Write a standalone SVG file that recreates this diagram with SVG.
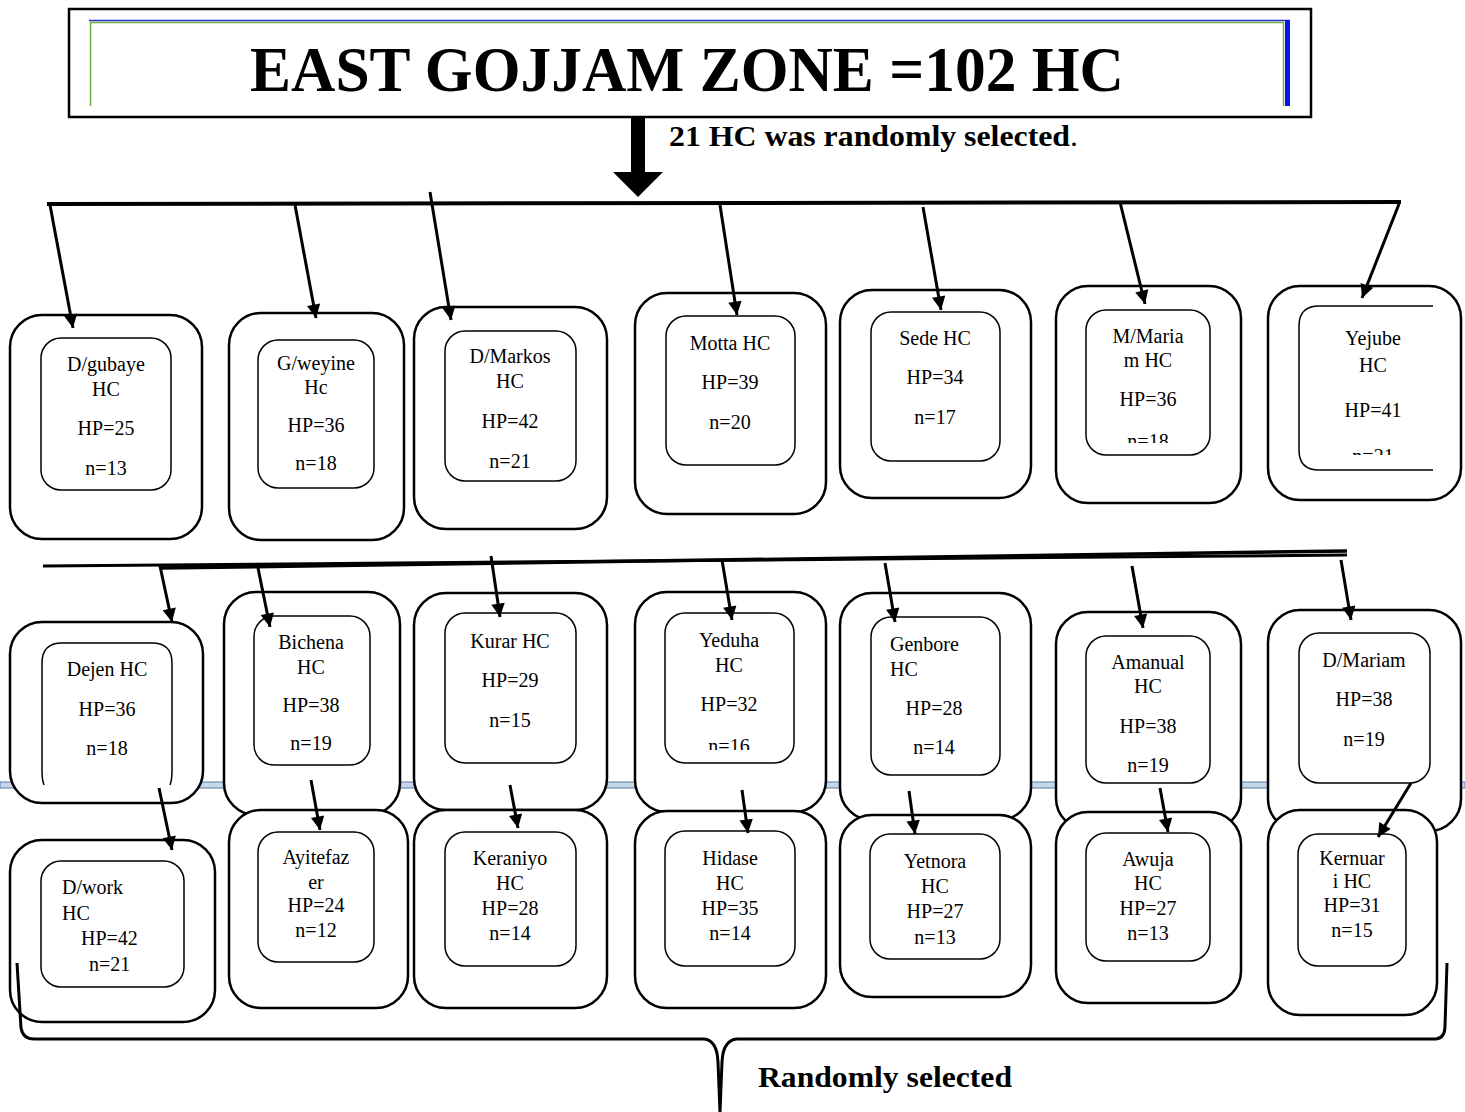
<svg xmlns="http://www.w3.org/2000/svg" width="1465" height="1112" viewBox="0 0 1465 1112">
<style>
.o{fill:#fff;stroke:#000;stroke-width:2.5}
.i{fill:#fff;stroke:#000;stroke-width:1.5}
.io{fill:none;stroke:#000;stroke-width:1.5}
.t{font-family:"Liberation Serif","Times New Roman",serif;font-size:20px;fill:#000;text-anchor:middle}
.tl{font-family:"Liberation Serif","Times New Roman",serif;font-size:20px;fill:#000}
.b{font-family:"Liberation Serif","Times New Roman",serif;font-weight:bold;fill:#000}
.a{stroke:#000;stroke-width:3;fill:none;marker-end:url(#ah)}
.bar{stroke:#000;stroke-width:4;fill:none}
</style>
<defs>
<marker id="ah" viewBox="0 0 10 10" refX="10" refY="5" markerWidth="5.3" markerHeight="4.5" orient="auto" markerUnits="strokeWidth">
<path d="M0,0 L10,5 L0,10 z" fill="#000"/>
</marker>
<clipPath id="c1"><rect x="1290" y="300" width="160" height="155"/></clipPath>
<clipPath id="c2"><rect x="1080" y="300" width="140" height="143"/></clipPath>
<clipPath id="c3"><rect x="660" y="600" width="140" height="150"/></clipPath>
</defs>

<g id="title">
<rect x="69" y="9" width="1242" height="108" fill="#fff" stroke="#000" stroke-width="2.5"/>
<line x1="89" y1="20.5" x2="1290" y2="20.5" stroke="#1f2fd6" stroke-width="1.5"/>
<line x1="90" y1="22.5" x2="1283" y2="22.5" stroke="#70ad47" stroke-width="1.5"/>
<line x1="90.5" y1="22" x2="90.5" y2="106" stroke="#70ad47" stroke-width="1.5"/>
<line x1="1283.5" y1="22" x2="1283.5" y2="106" stroke="#70ad47" stroke-width="1.5"/>
<rect x="1285" y="20" width="5" height="86" fill="#0a14e6"/>
<text class="b" x="687" y="91" font-size="64" text-anchor="middle" textLength="874" lengthAdjust="spacingAndGlyphs">EAST GOJJAM ZONE =102 HC</text>
</g>

<g id="selected-label">
<path d="M631,117 L645,117 L645,172 L663,172 L638,197 L613,172 L631,172 z" fill="#000"/>
<text class="b" x="669" y="146" font-size="30" textLength="409" lengthAdjust="spacingAndGlyphs">21 HC was randomly selected<tspan font-weight="normal">.</tspan></text>
</g>

<g id="divider">
<rect x="0" y="782" width="1465" height="6" fill="#c5d7ea" stroke="#5a7aa0" stroke-width="1"/>
</g>

<!-- Row 1 -->
<g id="n-dgubaye">
<rect class="o" x="10" y="315" width="192" height="224" rx="32"/>
<rect class="i" x="41" y="338" width="130" height="152" rx="20"/>
<text class="t" font-size="21"><tspan x="106" y="371">D/gubaye</tspan><tspan x="106" y="396">HC</tspan><tspan x="106" y="435">HP=25</tspan><tspan x="106" y="475">n=13</tspan></text>
</g>
<g id="n-gweyine">
<rect class="o" x="229" y="313" width="175" height="227" rx="32"/>
<rect class="i" x="258" y="340" width="116" height="148" rx="20"/>
<text class="t" font-size="18.5"><tspan x="316" y="370">G/weyine</tspan><tspan x="316" y="394">Hc</tspan><tspan x="316" y="432">HP=36</tspan><tspan x="316" y="470">n=18</tspan></text>
</g>
<g id="n-dmarkos">
<rect class="o" x="414" y="307" width="193" height="222" rx="32"/>
<rect class="i" x="445" y="331" width="131" height="150" rx="20"/>
<text class="t" font-size="21"><tspan x="510" y="363">D/Markos</tspan><tspan x="510" y="388">HC</tspan><tspan x="510" y="428">HP=42</tspan><tspan x="510" y="468">n=21</tspan></text>
</g>
<g id="n-motta">
<rect class="o" x="635" y="293" width="191" height="221" rx="32"/>
<rect class="i" x="666" y="316" width="129" height="149" rx="20"/>
<text class="t"><tspan x="730" y="350">Motta HC</tspan><tspan x="730" y="389">HP=39</tspan><tspan x="730" y="429">n=20</tspan></text>
</g>
<g id="n-sede">
<rect class="o" x="840" y="290" width="191" height="208" rx="32"/>
<rect class="i" x="871" y="312" width="129" height="149" rx="20"/>
<text class="t"><tspan x="935" y="345">Sede HC</tspan><tspan x="935" y="384">HP=34</tspan><tspan x="935" y="424">n=17</tspan></text>
</g>
<g id="n-mmariam">
<rect class="o" x="1056" y="286" width="185" height="217" rx="32"/>
<rect class="i" x="1086" y="310" width="124" height="145" rx="20"/>
<text class="t" clip-path="url(#c2)"><tspan x="1148" y="343">M/Maria</tspan><tspan x="1148" y="367">m HC</tspan><tspan x="1148" y="406">HP=36</tspan><tspan x="1148" y="448">n=18</tspan></text>
</g>
<g id="n-yejube">
<rect class="o" x="1268" y="286" width="193" height="214" rx="32"/>
<path class="io" d="M1433,306 L1319,306 Q1299,306 1299,326 L1299,450 Q1299,470 1319,470 L1433,470"/>
<text class="t" font-size="24" clip-path="url(#c1)"><tspan x="1373" y="345">Yejube</tspan><tspan x="1373" y="372">HC</tspan><tspan x="1373" y="417">HP=41</tspan><tspan x="1373" y="463">n=21</tspan></text>
</g>

<!-- Row 2 -->
<g id="n-dejen">
<rect class="o" x="10" y="622" width="193" height="181" rx="32"/>
<path class="io" d="M44,785 Q42,780 42,770 L42,663 Q42,643 62,643 L152,643 Q172,643 172,663 L172,770 Q172,780 170,785"/>
<text class="t" font-size="21"><tspan x="107" y="676">Dejen HC</tspan><tspan x="107" y="716">HP=36</tspan><tspan x="107" y="755">n=18</tspan></text>
</g>
<g id="n-bichena">
<rect class="o" x="224" y="592" width="176" height="223" rx="32"/>
<rect class="i" x="254" y="616" width="116" height="149" rx="20"/>
<text class="t"><tspan x="311" y="649">Bichena</tspan><tspan x="311" y="674">HC</tspan><tspan x="311" y="712">HP=38</tspan><tspan x="311" y="750">n=19</tspan></text>
</g>
<g id="n-kurar">
<rect class="o" x="414" y="593" width="193" height="217" rx="32"/>
<rect class="i" x="445" y="613" width="131" height="150" rx="20"/>
<text class="t"><tspan x="510" y="648">Kurar HC</tspan><tspan x="510" y="687">HP=29</tspan><tspan x="510" y="727">n=15</tspan></text>
</g>
<g id="n-yeduha">
<rect class="o" x="635" y="592" width="191" height="220" rx="32"/>
<rect class="i" x="665" y="613" width="129" height="150" rx="20"/>
<text class="t" clip-path="url(#c3)"><tspan x="729" y="647">Yeduha</tspan><tspan x="729" y="672">HC</tspan><tspan x="729" y="711">HP=32</tspan><tspan x="729" y="753">n=16</tspan></text>
</g>
<g id="n-genbore">
<rect class="o" x="840" y="593" width="191" height="227" rx="32"/>
<rect class="i" x="871" y="617" width="129" height="158" rx="20"/>
<text class="tl" x="890" y="651">Genbore</text>
<text class="tl" x="890" y="676">HC</text>
<text class="t"><tspan x="934" y="715">HP=28</tspan><tspan x="934" y="754">n=14</tspan></text>
</g>
<g id="n-amanual">
<rect class="o" x="1056" y="612" width="185" height="218" rx="32"/>
<rect class="i" x="1086" y="636" width="124" height="147" rx="20"/>
<text class="t"><tspan x="1148" y="669">Amanual</tspan><tspan x="1148" y="693">HC</tspan><tspan x="1148" y="733">HP=38</tspan><tspan x="1148" y="772">n=19</tspan></text>
</g>
<g id="n-dmariam">
<rect class="o" x="1268" y="610" width="193" height="221" rx="32"/>
<rect class="i" x="1299" y="633" width="131" height="150" rx="20"/>
<text class="t"><tspan x="1364" y="667">D/Mariam</tspan><tspan x="1364" y="706">HP=38</tspan><tspan x="1364" y="746">n=19</tspan></text>
</g>

<!-- Row 3 -->
<g id="n-dwork">
<rect class="o" x="10" y="840" width="205" height="182" rx="32"/>
<rect class="i" x="41" y="861" width="143" height="126" rx="20"/>
<text class="tl" x="62" y="894">D/work</text>
<text class="tl" x="62" y="920">HC</text>
<text class="tl" x="81" y="945">HP=42</text>
<text class="tl" x="89" y="971">n=21</text>
</g>
<g id="n-ayitefazer">
<rect class="o" x="229" y="810" width="179" height="198" rx="32"/>
<rect class="i" x="258" y="832" width="116" height="130" rx="20"/>
<text class="t"><tspan x="316" y="864">Ayitefaz</tspan><tspan x="316" y="889">er</tspan><tspan x="316" y="912">HP=24</tspan><tspan x="316" y="937">n=12</tspan></text>
</g>
<g id="n-keraniyo">
<rect class="o" x="414" y="810" width="193" height="198" rx="32"/>
<rect class="i" x="445" y="832" width="131" height="134" rx="20"/>
<text class="t"><tspan x="510" y="865">Keraniyo</tspan><tspan x="510" y="890">HC</tspan><tspan x="510" y="915">HP=28</tspan><tspan x="510" y="940">n=14</tspan></text>
</g>
<g id="n-hidase">
<rect class="o" x="635" y="811" width="191" height="197" rx="32"/>
<rect class="i" x="665" y="831" width="130" height="135" rx="20"/>
<text class="t"><tspan x="730" y="865">Hidase</tspan><tspan x="730" y="890">HC</tspan><tspan x="730" y="915">HP=35</tspan><tspan x="730" y="940">n=14</tspan></text>
</g>
<g id="n-yetnora">
<rect class="o" x="840" y="815" width="191" height="182" rx="32"/>
<rect class="i" x="870" y="834" width="130" height="125" rx="20"/>
<text class="t"><tspan x="935" y="868">Yetnora</tspan><tspan x="935" y="893">HC</tspan><tspan x="935" y="918">HP=27</tspan><tspan x="935" y="944">n=13</tspan></text>
</g>
<g id="n-awuja">
<rect class="o" x="1056" y="812" width="185" height="191" rx="32"/>
<rect class="i" x="1086" y="833" width="124" height="128" rx="20"/>
<text class="t"><tspan x="1148" y="866">Awuja</tspan><tspan x="1148" y="890">HC</tspan><tspan x="1148" y="915">HP=27</tspan><tspan x="1148" y="940">n=13</tspan></text>
</g>
<g id="n-kernuari">
<rect class="o" x="1268" y="810" width="169" height="205" rx="32"/>
<rect class="i" x="1298" y="834" width="108" height="132" rx="20"/>
<text class="t"><tspan x="1352" y="865">Kernuar</tspan><tspan x="1352" y="888">i HC</tspan><tspan x="1352" y="912">HP=31</tspan><tspan x="1352" y="937">n=15</tspan></text>
</g>

<g id="connectors">
<line class="bar" x1="47" y1="204" x2="1401" y2="202"/>
<line class="a" x1="50" y1="205" x2="73" y2="328"/>
<line class="a" x1="295" y1="205" x2="316" y2="318"/>
<line class="a" x1="430" y1="192" x2="451" y2="320"/>
<line class="a" x1="720" y1="205" x2="737" y2="315"/>
<line class="a" x1="923" y1="207" x2="941" y2="310"/>
<line class="a" x1="1120" y1="202" x2="1145" y2="304"/>
<line class="a" x1="1399" y1="204" x2="1362" y2="298"/>

<line x1="43" y1="566" x2="1347" y2="555" stroke="#000" stroke-width="3"/>
<line x1="160" y1="568" x2="1347" y2="551" stroke="#000" stroke-width="3.5"/>
<line class="a" x1="160" y1="566" x2="172" y2="622"/>
<line class="a" x1="258" y1="568" x2="270" y2="627"/>
<line class="a" x1="491" y1="556" x2="500" y2="617"/>
<line class="a" x1="722" y1="560" x2="732" y2="620"/>
<line class="a" x1="885" y1="563" x2="895" y2="622"/>
<line class="a" x1="1132" y1="566" x2="1143" y2="628"/>
<line class="a" x1="1341" y1="560" x2="1351" y2="620"/>

<line class="a" x1="159" y1="788" x2="172" y2="850"/>
<line class="a" x1="311" y1="780" x2="320" y2="830"/>
<line class="a" x1="510" y1="785" x2="518" y2="828"/>
<line class="a" x1="742" y1="790" x2="748" y2="833"/>
<line class="a" x1="909" y1="791" x2="915" y2="834"/>
<line class="a" x1="1160" y1="788" x2="1168" y2="832"/>
<line class="a" x1="1411" y1="783" x2="1378" y2="837"/>

<path d="M17,963 L21,1028 Q23,1039 34,1039 L704,1039 Q717,1040 718,1062 L720,1112 M720,1112 L722,1062 Q723,1040 737,1039 L1436,1039 Q1445,1038 1445,1026 L1447,963" fill="none" stroke="#000" stroke-width="3"/>
</g>

<g id="footer">
<text class="b" x="758" y="1087" font-size="30" textLength="254" lengthAdjust="spacingAndGlyphs">Randomly selected</text>
</g>
</svg>
